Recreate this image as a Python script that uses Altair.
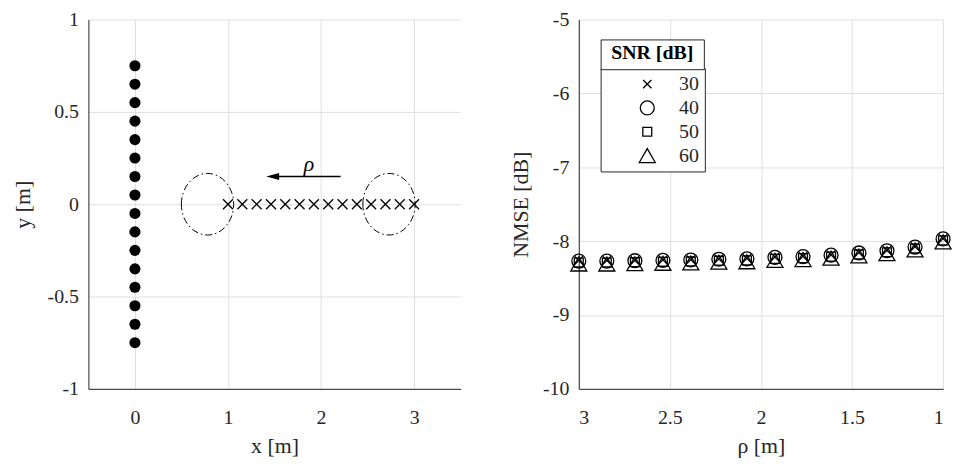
import altair as alt
import pandas as pd

FONT = "Liberation Serif"
INK = "#262626"
GRID = "#dfdfdf"

# ---------------- left panel: geometry ----------------
array_y = [0.75, 0.65, 0.55, 0.45, 0.35, 0.25, 0.15, 0.05,
           -0.05, -0.15, -0.25, -0.35, -0.45, -0.55, -0.65, -0.75]
array_x = [0, 0, 0, 0, 0, 0, 0, 0, 0, 0, 0, 0, 0, 0, 0, 0]

track_x = [1.0, 1.154, 1.308, 1.462, 1.615, 1.769, 1.923, 2.077,
           2.231, 2.385, 2.538, 2.692, 2.846, 3.0]
track_y = [0, 0, 0, 0, 0, 0, 0, 0, 0, 0, 0, 0, 0, 0]

ring_x = [0.78, 2.73]
ring_y = [0.0, 0.0]

arrow_x = [2.21, 1.5]
arrow_y = [0.15, 0.15]
arrowhead_x = [1.48]
arrowhead_y = [0.15]

rho_label_x = [1.87]
rho_label_y = [0.22]
rho_label = ["ρ"]

# ---------------- right panel: NMSE vs rho ----------------
rho = [3.0, 2.846, 2.692, 2.538, 2.385, 2.231, 2.077, 1.923,
       1.769, 1.615, 1.462, 1.308, 1.154, 1.0]
snr_levels = ["30", "40", "50", "60"]
legend_header = ["SNR [dB]"]
nmse_30 = [-8.26, -8.26, -8.26, -8.255, -8.25, -8.24, -8.235, -8.215,
           -8.205, -8.185, -8.155, -8.125, -8.075, -7.965]
nmse_40 = [-8.27, -8.27, -8.265, -8.26, -8.255, -8.245, -8.24, -8.22,
           -8.21, -8.19, -8.16, -8.13, -8.08, -7.97]
nmse_50 = [-8.29, -8.29, -8.285, -8.28, -8.275, -8.265, -8.26, -8.24,
           -8.23, -8.21, -8.18, -8.15, -8.10, -7.99]
nmse_60 = [-8.31, -8.31, -8.305, -8.30, -8.295, -8.285, -8.28, -8.26,
           -8.25, -8.23, -8.20, -8.17, -8.12, -8.01]

# symbol paths
X_PATH = "M-1,-1L1,1M1,-1L-1,1"
X_SMALL = "M-0.6,-0.6L0.6,0.6M0.6,-0.6L-0.6,0.6"
SQ_PATH = "M-0.64,-0.64L0.64,-0.64L0.64,0.64L-0.64,0.64Z"
TRI_PATH = "M0,-1L1.15,1L-1.15,1Z"
HEAD_PATH = "M-1,0L1,-0.55L1,0.55Z"
RING_PATH = ("M-0.85,0C-0.85,-0.552 -0.469,-1 0,-1C0.469,-1 0.85,-0.552 0.85,0"
             "C0.85,0.552 0.469,1 0,1C-0.469,1 -0.85,0.552 -0.85,0Z")

WL, WR, H = 375, 367, 372

# ---------- left chart ----------
xl = alt.X("x:Q", scale=alt.Scale(domain=[-0.5, 3.5], nice=False, zero=False),
           axis=alt.Axis(values=[0, 1, 2, 3], title="x [m]", labelExpr="'' + datum.value"))
yl = alt.Y("y:Q", scale=alt.Scale(domain=[-1, 1], nice=False, zero=False),
           axis=alt.Axis(values=[-1, -0.5, 0, 0.5, 1], title="y [m]", titlePadding=13,
                         labelExpr="'' + datum.value"))

dots = alt.Chart(pd.DataFrame({"x": array_x, "y": array_y})).mark_point(
    shape="circle", filled=True, color="black", size=125, opacity=1
).encode(x=xl, y=yl)

crosses = alt.Chart(pd.DataFrame({"x": track_x, "y": track_y})).mark_point(
    shape=X_PATH, filled=False, color="black", size=100, strokeWidth=1.3, opacity=1
).encode(x=xl, y=yl)

rings = alt.Chart(pd.DataFrame({"x": ring_x, "y": ring_y})).mark_point(
    shape=RING_PATH, filled=False, color="black", size=3844, strokeWidth=1,
    strokeDash=[7, 3, 1.5, 3], opacity=1
).encode(x=xl, y=yl)

arrow = alt.Chart(pd.DataFrame({"x": arrow_x, "y": arrow_y})).mark_line(
    color="black", strokeWidth=1.5
).encode(x=xl, y=yl)

head = alt.Chart(pd.DataFrame({"x": arrowhead_x, "y": arrowhead_y})).mark_point(
    shape=HEAD_PATH, filled=True, color="black", size=169, opacity=1
).encode(x=xl, y=yl)

rho_txt = alt.Chart(pd.DataFrame({"x": rho_label_x, "y": rho_label_y, "t": rho_label})).mark_text(
    font=FONT, fontStyle="italic", fontSize=22, color="black"
).encode(x=xl, y=yl, text="t:N")

left = alt.layer(dots, crosses, rings, arrow, head, rho_txt).properties(width=WL, height=H)

# ---------- right chart ----------
rows = []
for s, vals in zip(snr_levels, [nmse_30, nmse_40, nmse_50, nmse_60]):
    for r, v in zip(rho, vals):
        rows.append({"rho": r, "nmse": v, "snr": s})
df_r = pd.DataFrame(rows)

xr = alt.X("rho:Q", scale=alt.Scale(domain=[1, 3], reverse=True, nice=False, zero=False),
           axis=alt.Axis(values=[3, 2.5, 2, 1.5, 1], title="ρ [m]", labelExpr="'' + datum.value"))
yr = alt.Y("nmse:Q", scale=alt.Scale(domain=[-10, -5], nice=False, zero=False),
           axis=alt.Axis(values=[-10, -9, -8, -7, -6, -5], title="NMSE [dB]", labelExpr="'' + datum.value"))

pts = alt.Chart(df_r).mark_point(filled=False, size=196, strokeWidth=1.3, opacity=1, clip=False).encode(
    x=xr, y=yr,
    color=alt.value("black"),
    shape=alt.Shape("snr:N", sort=snr_levels,
                    scale=alt.Scale(domain=snr_levels, range=[X_SMALL, "circle", SQ_PATH, TRI_PATH]),
                    legend=alt.Legend(
                        title=None, orient="none", legendX=22, legendY=49,
                        labelFont=FONT, labelFontSize=20, labelColor=INK,
                        symbolSize=196, symbolStrokeWidth=1.3, symbolStrokeColor="black",
                        symbolFillColor="transparent",
                        symbolOffset=31, labelOffset=22, rowPadding=4,
                        padding=6, strokeColor=INK, fillColor="white",
                    )),
)

# header box of the legend (a second legend holding only the title)
hdr = alt.Chart(pd.DataFrame({"h": legend_header})).mark_point(size=0, opacity=0).encode(
    strokeDash=alt.StrokeDash("h:N", legend=alt.Legend(
        title=legend_header[0], orient="none", legendX=22, legendY=20,
        titleFont=FONT, titleFontSize=20, titleFontWeight="bold", titleColor="black",
        titleAnchor="middle", titlePadding=0,
        labelExpr="''", labelFontSize=1,
        symbolSize=1, symbolOpacity=0, symbolOffset=0, labelOffset=93,
        padding=4, strokeColor=INK, fillColor="white",
    ))
)

right = alt.layer(pts, hdr).resolve_legend(shape="independent", strokeDash="independent").properties(
    width=WR, height=H)

chart = alt.hconcat(left, right, spacing=49).resolve_scale(
    x="independent", y="independent", shape="independent"
).properties(
    padding={"left": 3, "top": 0, "right": 0, "bottom": 0}
).configure(font=FONT).configure_view(stroke=None).configure_axis(
    labelFont=FONT, labelFontSize=20, labelColor=INK,
    titleFont=FONT, titleFontSize=22, titleFontWeight="normal", titleColor=INK,
    domainColor=INK, domainWidth=1, gridColor=GRID, gridWidth=1,
    ticks=False, labelPadding=10, titlePadding=10,
).configure_axisX(labelPadding=19, titlePadding=8)

chart.save("out.html", embed_options={"renderer": "svg", "actions": False})
